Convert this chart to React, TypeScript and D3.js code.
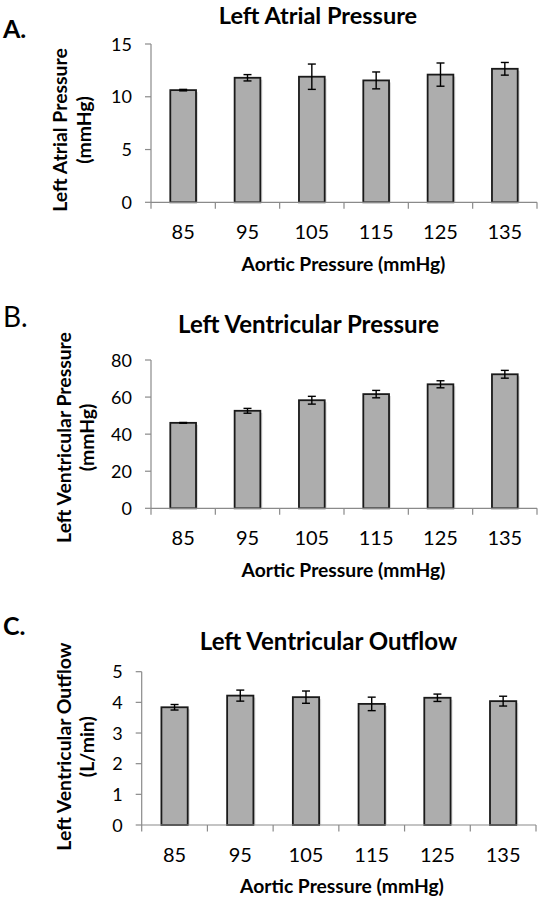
import React from "react";
import * as d3 from "d3";

const categories = ["85", "95", "105", "115", "125", "135"];

const laValues = [10.63, 11.8, 11.9, 11.55, 12.1, 12.65];
const laErrors = [0.07, 0.3, 1.2, 0.8, 1.1, 0.6];
const laTicks = [0, 5, 10, 15];

const lvpValues = [46.1, 52.6, 58.3, 61.6, 66.9, 72.3];
const lvpErrors = [0.2, 1.3, 2.1, 2.0, 1.9, 2.1];
const lvpTicks = [0, 20, 40, 60, 80];

const lvoValues = [3.84, 4.22, 4.17, 3.95, 4.15, 4.04];
const lvoErrors = [0.09, 0.18, 0.2, 0.22, 0.12, 0.16];
const lvoTicks = [0, 1, 2, 3, 4, 5];

const FONT = "Lato, 'Open Sans', sans-serif";

type PanelProps = {
  letter: string;
  letterBold: boolean;
  letterSize: number;
  letterBaseline: number;
  title: string;
  titleSize: number;
  titleX: number;
  titleY: number;
  yTitle: string[];
  yTitleX: number[];
  yTitleCenter: number;
  values: number[];
  errors: number[];
  ticks: number[];
  x0: number;
  x1: number;
  yTop: number;
  yBottom: number;
  xTitleX: number;
};

function Panel(p: PanelProps) {
  const yMax = p.ticks[p.ticks.length - 1];
  const x = d3.scaleBand<string>().domain(categories).range([p.x0, p.x1]).paddingInner(0.6).paddingOuter(0.3);
  const y = d3.scaleLinear().domain([0, yMax]).range([p.yBottom, p.yTop]);
  const step = (p.x1 - p.x0) / categories.length;
  const axisColor = "#8a8a8a";
  return (
    <g>
      <text x={3} y={p.letterBaseline} fontFamily={FONT} fontSize={p.letterSize} fontWeight={p.letterBold ? 700 : 400} fill="#000">
        {p.letter}
      </text>
      <text x={p.titleX} y={p.titleY} textAnchor="middle" fontFamily={FONT} fontSize={p.titleSize} fontWeight={700} fill="#000">
        {p.title}
      </text>
      {p.yTitle.map((t, i) => (
        <text
          key={i}
          transform={`translate(${p.yTitleX[i]},${p.yTitleCenter}) rotate(-90)`}
          textAnchor="middle"
          fontFamily={FONT}
          fontSize={19.4}
          fontWeight={700}
          fill="#000"
        >
          {t}
        </text>
      ))}
      <line x1={p.x0} x2={p.x0} y1={y(yMax)} y2={y(0)} stroke={axisColor} strokeWidth={1.2} />
      {p.ticks.map((t) => (
        <g key={t}>
          <line x1={p.x0 - 6} x2={p.x0} y1={y(t)} y2={y(t)} stroke={axisColor} strokeWidth={1.2} />
          <text x={p.x0 - 19} y={y(t) + 6.5} textAnchor="end" fontFamily={FONT} fontSize={18} fill="#000">
            {t}
          </text>
        </g>
      ))}
      {categories.map((c, i) => {
        const v = p.values[i];
        const e = p.errors[i];
        const bx = x(c)!;
        const bw = x.bandwidth();
        const cx = bx + bw / 2;
        return (
          <g key={c}>
            <rect x={bx + 2} y={y(v) + 2} width={bw} height={y(0) - y(v) - 2} fill="#dcdcdc" />
            <rect x={bx} y={y(v)} width={bw} height={y(0) - y(v)} fill="#adadad" stroke="#1a1a1a" strokeWidth={1.8} />
            <line x1={cx} x2={cx} y1={y(v + e)} y2={y(v - e)} stroke="#000" strokeWidth={1.4} />
            <line x1={cx - 4} x2={cx + 4} y1={y(v + e)} y2={y(v + e)} stroke="#000" strokeWidth={1.4} />
            <line x1={cx - 4} x2={cx + 4} y1={y(v - e)} y2={y(v - e)} stroke="#000" strokeWidth={1.4} />
          </g>
        );
      })}
      <line x1={p.x0} x2={p.x1} y1={y(0)} y2={y(0)} stroke={axisColor} strokeWidth={1.2} />
      {d3.range(categories.length + 1).map((i) => (
        <line key={i} x1={p.x0 + i * step} x2={p.x0 + i * step} y1={y(0)} y2={y(0) + 6.5} stroke={axisColor} strokeWidth={1.2} />
      ))}
      {categories.map((c) => (
        <text key={c} x={x(c)! + x.bandwidth() / 2} y={y(0) + 36.7} textAnchor="middle" fontFamily={FONT} fontSize={20} fill="#000">
          {c}
        </text>
      ))}
      <text x={p.xTitleX} y={y(0) + 68.4} textAnchor="middle" fontFamily={FONT} fontSize={19.3} fontWeight={700} fill="#000">
        Aortic Pressure (mmHg)
      </text>
    </g>
  );
}

export default function App() {
  return (
    <svg width={540} height={900} style={{ position: "absolute", left: 0, top: 0, background: "#fff" }}>
      <rect width={540} height={900} fill="#fff" />
      <Panel
        letter="A."
        letterBold={true}
        letterSize={25}
        letterBaseline={37.7}
        title="Left Atrial Pressure"
        titleSize={23.5}
        titleX={318}
        titleY={23.5}
        yTitle={["Left Atrial Pressure", "(mmHg)"]}
        yTitleX={[66.5, 90.5]}
        yTitleCenter={130}
        values={laValues}
        errors={laErrors}
        ticks={laTicks}
        x0={151}
        x1={537}
        yTop={44}
        yBottom={202.3}
        xTitleX={343.5}
      />
      <Panel
        letter="B."
        letterBold={false}
        letterSize={28}
        letterBaseline={326.7}
        title="Left Ventricular Pressure"
        titleSize={24}
        titleX={308.6}
        titleY={333.3}
        yTitle={["Left Ventricular Pressure", "(mmHg)"]}
        yTitleX={[71, 94]}
        yTitleCenter={437.5}
        values={lvpValues}
        errors={lvpErrors}
        ticks={lvpTicks}
        x0={151}
        x1={537}
        yTop={360}
        yBottom={508.3}
        xTitleX={343.5}
      />
      <Panel
        letter="C."
        letterBold={true}
        letterSize={25}
        letterBaseline={635}
        title="Left Ventricular Outflow"
        titleSize={24}
        titleX={328.5}
        titleY={650}
        yTitle={["Left Ventricular Outflow", "(L/min)"]}
        yTitleX={[71, 94]}
        yTitleCenter={746.7}
        values={lvoValues}
        errors={lvoErrors}
        ticks={lvoTicks}
        x0={141.7}
        x1={536}
        yTop={671.7}
        yBottom={825}
        xTitleX={342}
      />
    </svg>
  );
}
